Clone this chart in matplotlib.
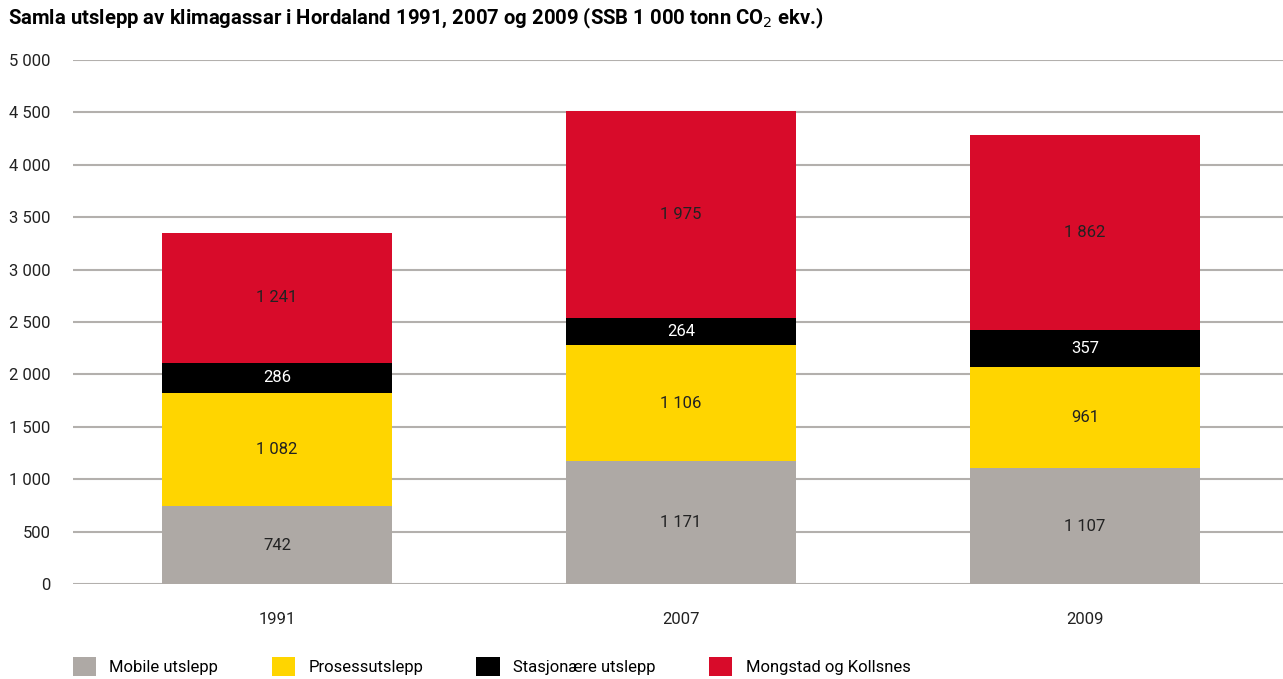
import numpy as np
import matplotlib.pyplot as plt
from matplotlib.patches import Patch

plt.rcParams['font.family'] = ['Roboto', 'DejaVu Sans']

years = ['1991', '2007', '2009']
series = ['Mobile utslepp', 'Prosessutslepp', 'Stasjonære utslepp', 'Mongstad og Kollsnes']
mobile = [742, 1171, 1107]
prosess = [1082, 1106, 961]
stasjonaer = [286, 264, 357]
mongstad = [1241, 1975, 1862]
yticks = [0, 500, 1000, 1500, 2000, 2500, 3000, 3500, 4000, 4500, 5000]

colors = ['#aea9a5', '#ffd500', '#000000', '#d80b2a']
text_colors = ['#222222', '#222222', 'white', '#222222']


def fmt(v):
    return f'{v:,}'.replace(',', ' ')


fig = plt.figure(figsize=(12.83, 6.79), dpi=100)
ax = fig.add_axes([0.0569, 0.1399, 0.9431, 0.7717])

x = np.arange(len(years))
bottom = np.zeros(len(years))
for vals, col, tcol in zip([mobile, prosess, stasjonaer, mongstad], colors, text_colors):
    vals = np.array(vals)
    ax.bar(x, vals, width=0.57, bottom=bottom, color=col, zorder=3)
    for xi, b, v in zip(x, bottom, vals):
        ax.text(xi, b + v / 2, fmt(v), ha='center', va='center',
                color=tcol, fontsize=12, zorder=4)
    bottom += vals

ax.set_xlim(-0.505, 2.49)
ax.set_ylim(0, 5000)
ax.set_yticks(yticks)
ax.set_yticklabels([fmt(v) for v in yticks])
ax.set_xticks(x)
ax.set_xticklabels(years)
ax.grid(axis='y', color='#b3b0ad', linewidth=1.5, zorder=0)
for s in ax.spines.values():
    s.set_visible(False)
ax.tick_params(axis='y', length=0, pad=16, labelsize=12, labelcolor='#222222')
ax.tick_params(axis='x', length=0, pad=20, labelsize=12, labelcolor='#222222')

fig.text(0.006, 0.973, r'Samla utslepp av klimagassar i Hordaland 1991, 2007 og 2009 (SSB 1 000 tonn CO$_2$ ekv.)',
         fontsize=14.6, fontweight='bold', ha='left', va='center')

handles = [Patch(facecolor=c) for c in colors]
fig.legend(handles, series, loc='lower left', bbox_to_anchor=(0.045, -0.018), ncol=4,
           frameon=False, fontsize=12, handlelength=1.4, handleheight=1.4,
           handletextpad=0.8, columnspacing=3.2)

fig.savefig('out.png', dpi=100)
